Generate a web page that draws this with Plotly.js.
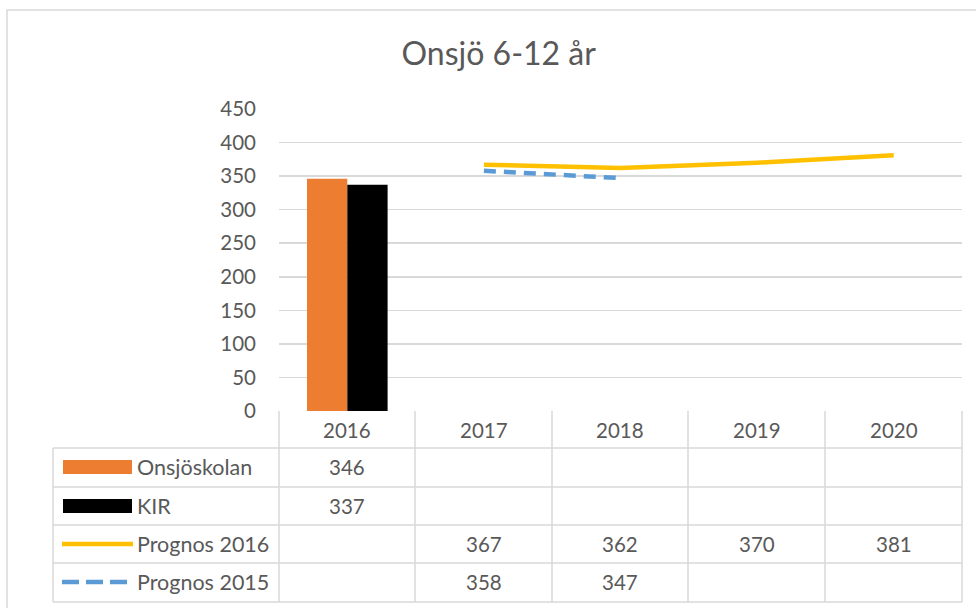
<!DOCTYPE html>
<html>
<head>
<meta charset="utf-8">
<script src="https://cdn.plot.ly/plotly-3.0.1.min.js"></script>
<style>html,body{margin:0;padding:0;background:#fff;}#chart{width:976px;height:608px;}</style>
</head>
<body>
<div id="chart"></div>
<script>
// ---- data ----
const categories = ["2016", "2017", "2018", "2019", "2020"];
const onsjoskolan = [346, null, null, null, null];
const kir = [337, null, null, null, null];
const prognos2016 = [null, 367, 362, 370, 381];
const prognos2015 = [null, 358, 347, null, null];
const seriesNames = ["Onsjöskolan", "KIR", "Prognos 2016", "Prognos 2015"];
const yTicks = [0, 50, 100, 150, 200, 250, 300, 350, 400, 450];

// ---- geometry (pixels) ----
const W = 976, H = 608;
const L = 279, R = 962, T = 109, B = 411;
const pw = R - L, ph = B - T;
const px = x => (x - L) / pw;
const py = y => (B - y) / ph;

const grid = '#D9D9D9', txt = '#595959', FONT = 'Lato, "Open Sans", sans-serif';
const colors = ['#ED7D31', '#000000', '#FFC000', '#5B9BD5'];
const FS = 20.5;

const traces = [
  {type: 'bar', x: categories, y: onsjoskolan, name: seriesNames[0], marker: {color: colors[0]}},
  {type: 'bar', x: categories, y: kir, name: seriesNames[1], marker: {color: colors[1]}},
  {type: 'scatter', mode: 'lines', x: categories, y: prognos2016, name: seriesNames[2], line: {color: colors[2], width: 4.5}},
  {type: 'scatter', mode: 'lines', x: categories, y: prognos2015, name: seriesNames[3], line: {color: colors[3], width: 4.5, dash: '12px,8px'}}
];

// ---- data table ----
const rowLines = [448, 487, 525, 563, 602];
const colEdges = [279, 415, 552, 688, 825, 962];
const tableLeft = 53;
const shapes = [];
const line = (x0, y0, x1, y1) => shapes.push({type: 'line', xref: 'paper', yref: 'paper', x0: px(x0), y0: py(y0), x1: px(x1), y1: py(y1), line: {color: grid, width: 1.5}, layer: 'above'});
// outer frame
shapes.push({type: 'rect', xref: 'paper', yref: 'paper', x0: px(7), y0: py(10), x1: px(990), y1: py(640), line: {color: grid, width: 1.5}, layer: 'below'});
rowLines.forEach(y => line(tableLeft, y, R, y));
colEdges.forEach(x => line(x, B, x, 602));
line(tableLeft, 448, tableLeft, 602);

const annotations = [];
const ann = (text, x, y, xanchor, size) => annotations.push({text, x: px(x), y: py(y), xref: 'paper', yref: 'paper', xanchor, yanchor: 'middle', showarrow: false, font: {family: FONT, size: size || FS, color: txt}});
const colCenter = i => (colEdges[i] + colEdges[i + 1]) / 2;
categories.forEach((c, i) => ann(c, colCenter(i), 430, 'center'));
const rowCenters = [467, 506, 544, 582];
const tableData = [onsjoskolan, kir, prognos2016, prognos2015];
seriesNames.forEach((n, r) => {
  ann(n, 135, rowCenters[r], 'left', 21.5);
  tableData[r].forEach((v, i) => { if (v !== null) ann(String(v), colCenter(i), rowCenters[r], 'center'); });
});
// legend keys
shapes.push({type: 'rect', xref: 'paper', yref: 'paper', x0: px(63), x1: px(132), y0: py(460), y1: py(474), fillcolor: colors[0], line: {width: 0}});
shapes.push({type: 'rect', xref: 'paper', yref: 'paper', x0: px(63), x1: px(132), y0: py(499), y1: py(513), fillcolor: colors[1], line: {width: 0}});
shapes.push({type: 'line', xref: 'paper', yref: 'paper', x0: px(62), x1: px(133), y0: py(544), y1: py(544), line: {color: colors[2], width: 4.5}});
shapes.push({type: 'line', xref: 'paper', yref: 'paper', x0: px(62), x1: px(127), y0: py(582), y1: py(582), line: {color: colors[3], width: 4.5, dash: '17px,7px'}});

const layout = {
  width: W, height: H,
  margin: {l: L, r: W - R, t: T, b: H - B},
  paper_bgcolor: '#fff', plot_bgcolor: '#fff',
  showlegend: false,
  barmode: 'group', bargap: 0.41, bargroupgap: 0,
  title: {text: 'Onsjö 6-12 år', x: 0.511, xanchor: 'center', y: 1 - 54 / H, yanchor: 'middle', yref: 'container', font: {family: FONT, size: 32, color: txt}},
  xaxis: {type: 'category', range: [-0.5, 4.5], showticklabels: false, showgrid: false, zeroline: false, showline: false, ticks: ''},
  yaxis: {range: [0, 450], tickvals: yTicks, ticktext: yTicks.map(String), showgrid: true, gridcolor: grid, gridwidth: 1.5, zeroline: false, showline: false, ticks: '', ticklabelstandoff: 22, tickfont: {family: FONT, size: FS, color: txt}},
  shapes, annotations,
  font: {family: FONT, color: txt}
};

Plotly.newPlot('chart', traces, layout, {staticPlot: true, displayModeBar: false});
</script>
</body>
</html>
